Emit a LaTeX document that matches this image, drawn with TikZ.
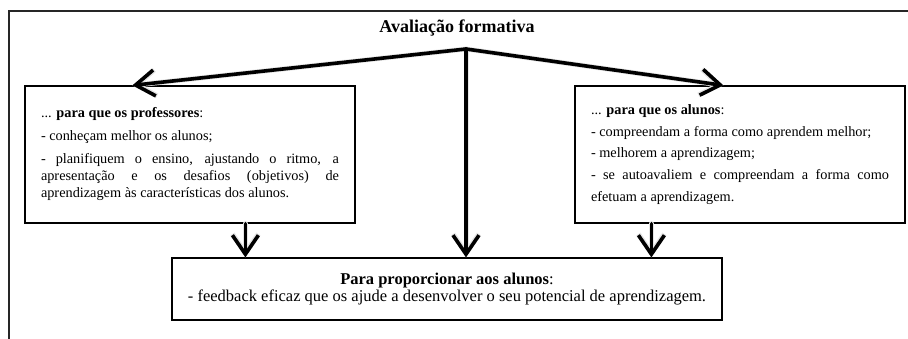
\documentclass[tikz,border=0pt]{standalone}
\usepackage{fontspec}
\setmainfont{Liberation Serif}
\usetikzlibrary{positioning,calc,arrows.meta}

\tikzset{
  sidebox/.style={draw,line width=1.2pt,inner sep=0pt,align=justify,
    minimum width=330pt,minimum height=137pt,text width=298pt},
  bigarrow/.style={line width=3.6pt,line join=round,line cap=round,
    -{Straight Barb[length=19pt,width=26pt]}},
  arrowshade/.style={black!10,line width=5pt,line join=round,line cap=round,
    -{Straight Barb[length=19pt,width=26pt]}},
}

\begin{document}
\begin{tikzpicture}[x=1pt,y=-1pt]
\useasboundingbox (0,0) rectangle (908,338);
% frame
\draw[line width=1.5pt,black!85] (910,11) -- (9,11) -- (9,340);
\node[font=\fontsize{18}{20}\selectfont\bfseries] (title) at (457,28) {Avaliação formativa};
\coordinate (hub) at (466,49);
% boxes
\node[sidebox,font=\fontsize{14.3}{17}\selectfont] (prof) at (190,154.5)
  {... \textbf{para que os professores}:\\[6pt]
   - conheçam melhor os alunos;\\[6pt]
   - planifiquem o ensino, ajustando o ritmo, a\linebreak
   apresentação e os desafios (objetivos) de\linebreak
   aprendizagem às características dos alunos.};
\node[sidebox,font=\fontsize{14.3}{21.7}\selectfont] (alun) at (740,154.5)
  {... \textbf{para que os alunos}:\\
   - compreendam a forma como aprendem melhor;\\
   - melhorem a aprendizagem;\\
   - se autoavaliem e compreendam a forma como\linebreak
   efetuam a aprendizagem.};
\node[draw,line width=1.2pt,minimum width=550pt,minimum height=62pt,align=center,
  font=\fontsize{16.5}{17.5}\selectfont] (feed) at (447,289)
  {\textbf{Para proporcionar aos alunos}:\\
   - feedback eficaz que os ajude a desenvolver o seu potencial de aprendizagem.};
% arrows
\coordinate (proftip) at ($(prof.north west)+(108,0)$);
\coordinate (aluntip) at ($(alun.north west)+(149,0)$);
\coordinate (profout) at ($(prof.south west)+(221,0)$);
\coordinate (alunout) at ($(alun.south west)+(77,0)$);
% soft shadow under the arrows
\begin{scope}[shift={(1,2.5)}]
\draw[arrowshade,{Straight Barb[length=19pt,width=26pt]}-{Straight Barb[length=19pt,width=26pt]}] (proftip) -- (hub) -- (aluntip);
\draw[arrowshade] (hub) -- (hub |- feed.north);
\draw[arrowshade] (profout) -- (profout |- feed.north);
\draw[arrowshade] (alunout) -- (alunout |- feed.north);
\end{scope}
\draw[bigarrow,{Straight Barb[length=19pt,width=26pt]}-{Straight Barb[length=19pt,width=26pt]}] (proftip) -- (hub) -- (aluntip);
\draw[bigarrow] (hub) -- (hub |- feed.north);
\draw[bigarrow] (profout) -- (profout |- feed.north);
\draw[bigarrow] (alunout) -- (alunout |- feed.north);
\end{tikzpicture}
\end{document}
